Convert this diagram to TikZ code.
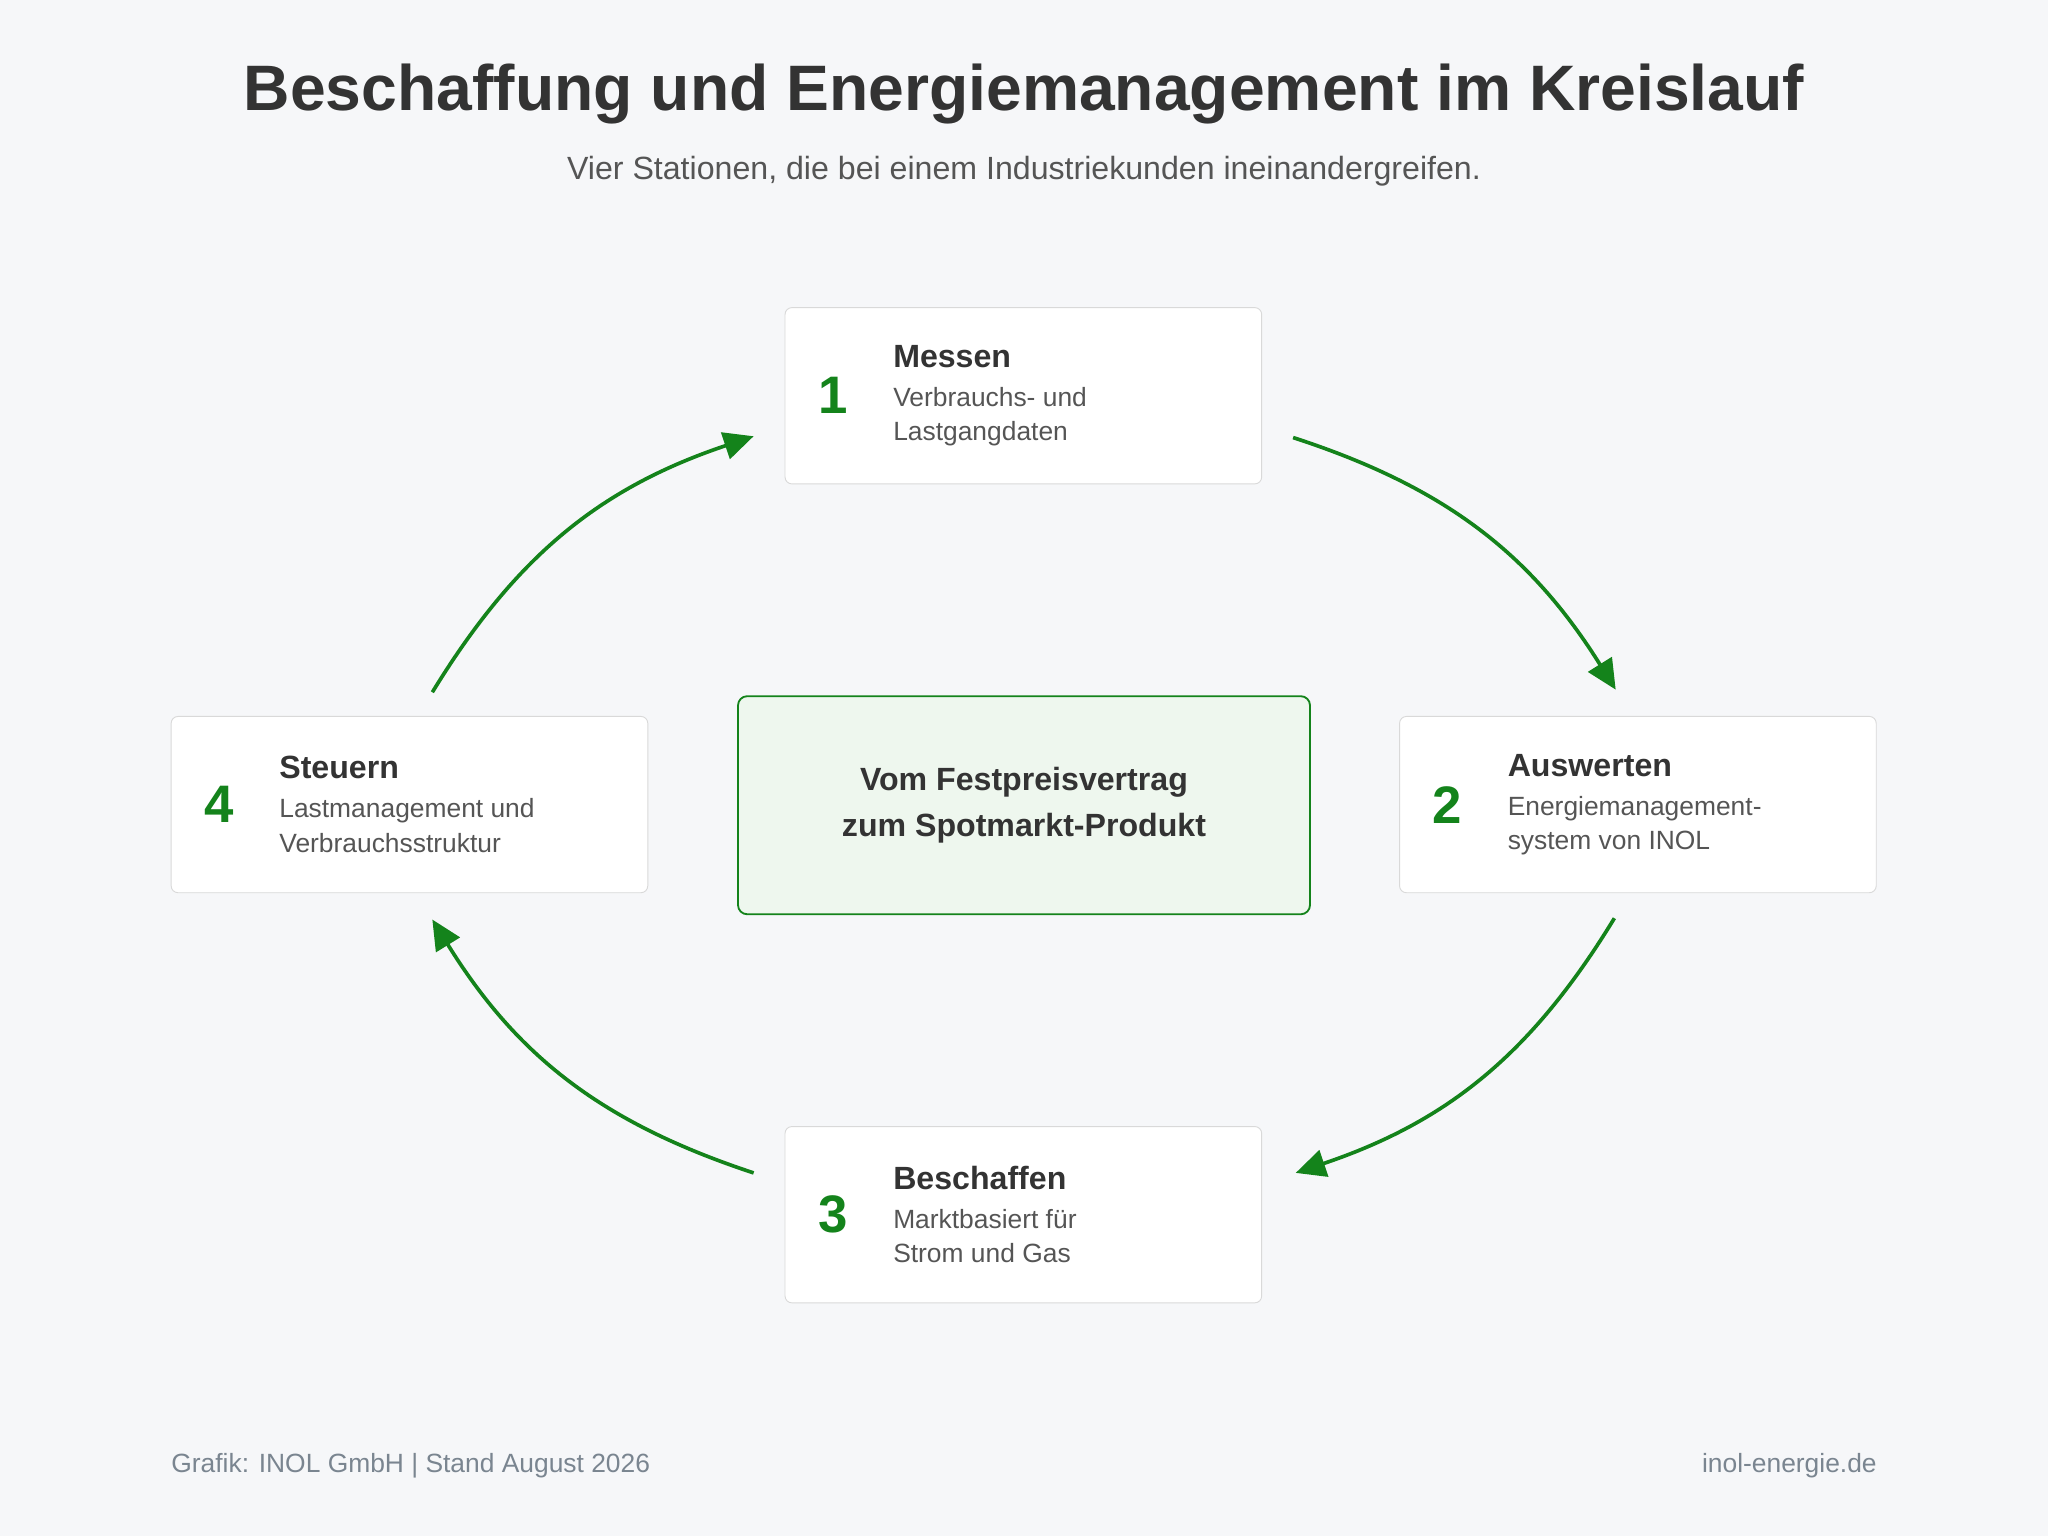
\documentclass[tikz,border=0pt]{standalone}
\usepackage{fontspec}
\setmainfont{Liberation Sans}
\usetikzlibrary{arrows.meta,positioning}
\definecolor{bgc}{HTML}{F6F7F9}
\definecolor{grn}{HTML}{14831B}
\definecolor{txt}{HTML}{333333}
\definecolor{sub}{HTML}{555555}
\definecolor{foot}{HTML}{7A8590}
\definecolor{lgrn}{HTML}{EEF7EE}
\tikzset{
  station/.style={draw=black!15, fill=white, rounded corners=3pt, minimum width=7.3cm, minimum height=2.7cm},
  num/.style={text=grn, font=\bfseries\fontsize{23}{23}\selectfont},
  desc/.style={anchor=west, align=left, text=sub, font=\fontsize{11.5}{15}\selectfont},
  cyc/.style={draw=grn, line width=1.6pt, -{Triangle[length=13pt,width=12pt]}}
}
\newcommand{\sttitle}[1]{{\color{txt}\bfseries\fontsize{14}{20}\selectfont #1}\\[2pt]}
\begin{document}
\begin{tikzpicture}[x=0.02cm,y=-0.02cm]
  \fill[bgc] (0,0) rectangle (1568,1176);
  \useasboundingbox (0,0) rectangle (1568,1176);

  \node (title) at (784,72) {\color{txt}\bfseries\fontsize{28}{30}\selectfont Beschaffung und Energiemanagement im Kreislauf};
  \node (subtitle) at (784,131) {\color{sub}\fontsize{14}{16}\selectfont Vier Stationen, die bei einem Industriekunden ineinandergreifen.};

  \node [station] (s1) at (783.5,303) {};
  \node [station] (s2) at (1254,616) {};
  \node [station] (s3) at (783.5,930) {};
  \node [station] (s4) at (313.5,616) {};
  \node [draw=grn, fill=lgrn, line width=0.8pt, rounded corners=4pt, minimum width=8.76cm, minimum height=3.34cm,
         align=center, text=txt, font=\bfseries\fontsize{14}{20}\selectfont] (core) at (784,616.5)
         {Vom Festpreisvertrag\\zum Spotmarkt-Produkt};

  \foreach \s/\n/\t/\d in {s1/1/Messen/{Verbrauchs- und\\Lastgangdaten},
                           s2/2/Auswerten/{Energiemanagement-\\system von INOL},
                           s3/3/Beschaffen/{Marktbasiert für\\Strom und Gas},
                           s4/4/Steuern/{Lastmanagement und\\Verbrauchsstruktur}} {
    \node [num] (\s n) at ([xshift=37*0.02cm]\s.west) {\n};
    \node [desc] (\s t) at ([xshift=77*0.02cm]\s.west) {\sttitle{\t}\d};
  }

  \coordinate (a1s) at (990,335);  \coordinate (a1e) at (1237,528);
  \coordinate (a2s) at (1236,703); \coordinate (a2e) at (992,898);
  \coordinate (a3s) at (577,898);  \coordinate (a3e) at (331,704);
  \coordinate (a4s) at (331,530);  \coordinate (a4e) at (577,334);
  \draw [cyc] (a1s) to [bend left=20] (a1e);
  \draw [cyc] (a2s) to [bend left=20] (a2e);
  \draw [cyc] (a3s) to [bend left=20] (a3e);
  \draw [cyc] (a4s) to [bend left=20] (a4e);

  \node [anchor=west, text=foot, font=\fontsize{11.5}{14}\selectfont] (credit) at (125,1122) {Grafik: INOL GmbH | Stand August 2026};
  \node [anchor=east, text=foot, font=\fontsize{11.5}{14}\selectfont] (site) at (1443,1122) {inol-energie.de};
\end{tikzpicture}
\end{document}
